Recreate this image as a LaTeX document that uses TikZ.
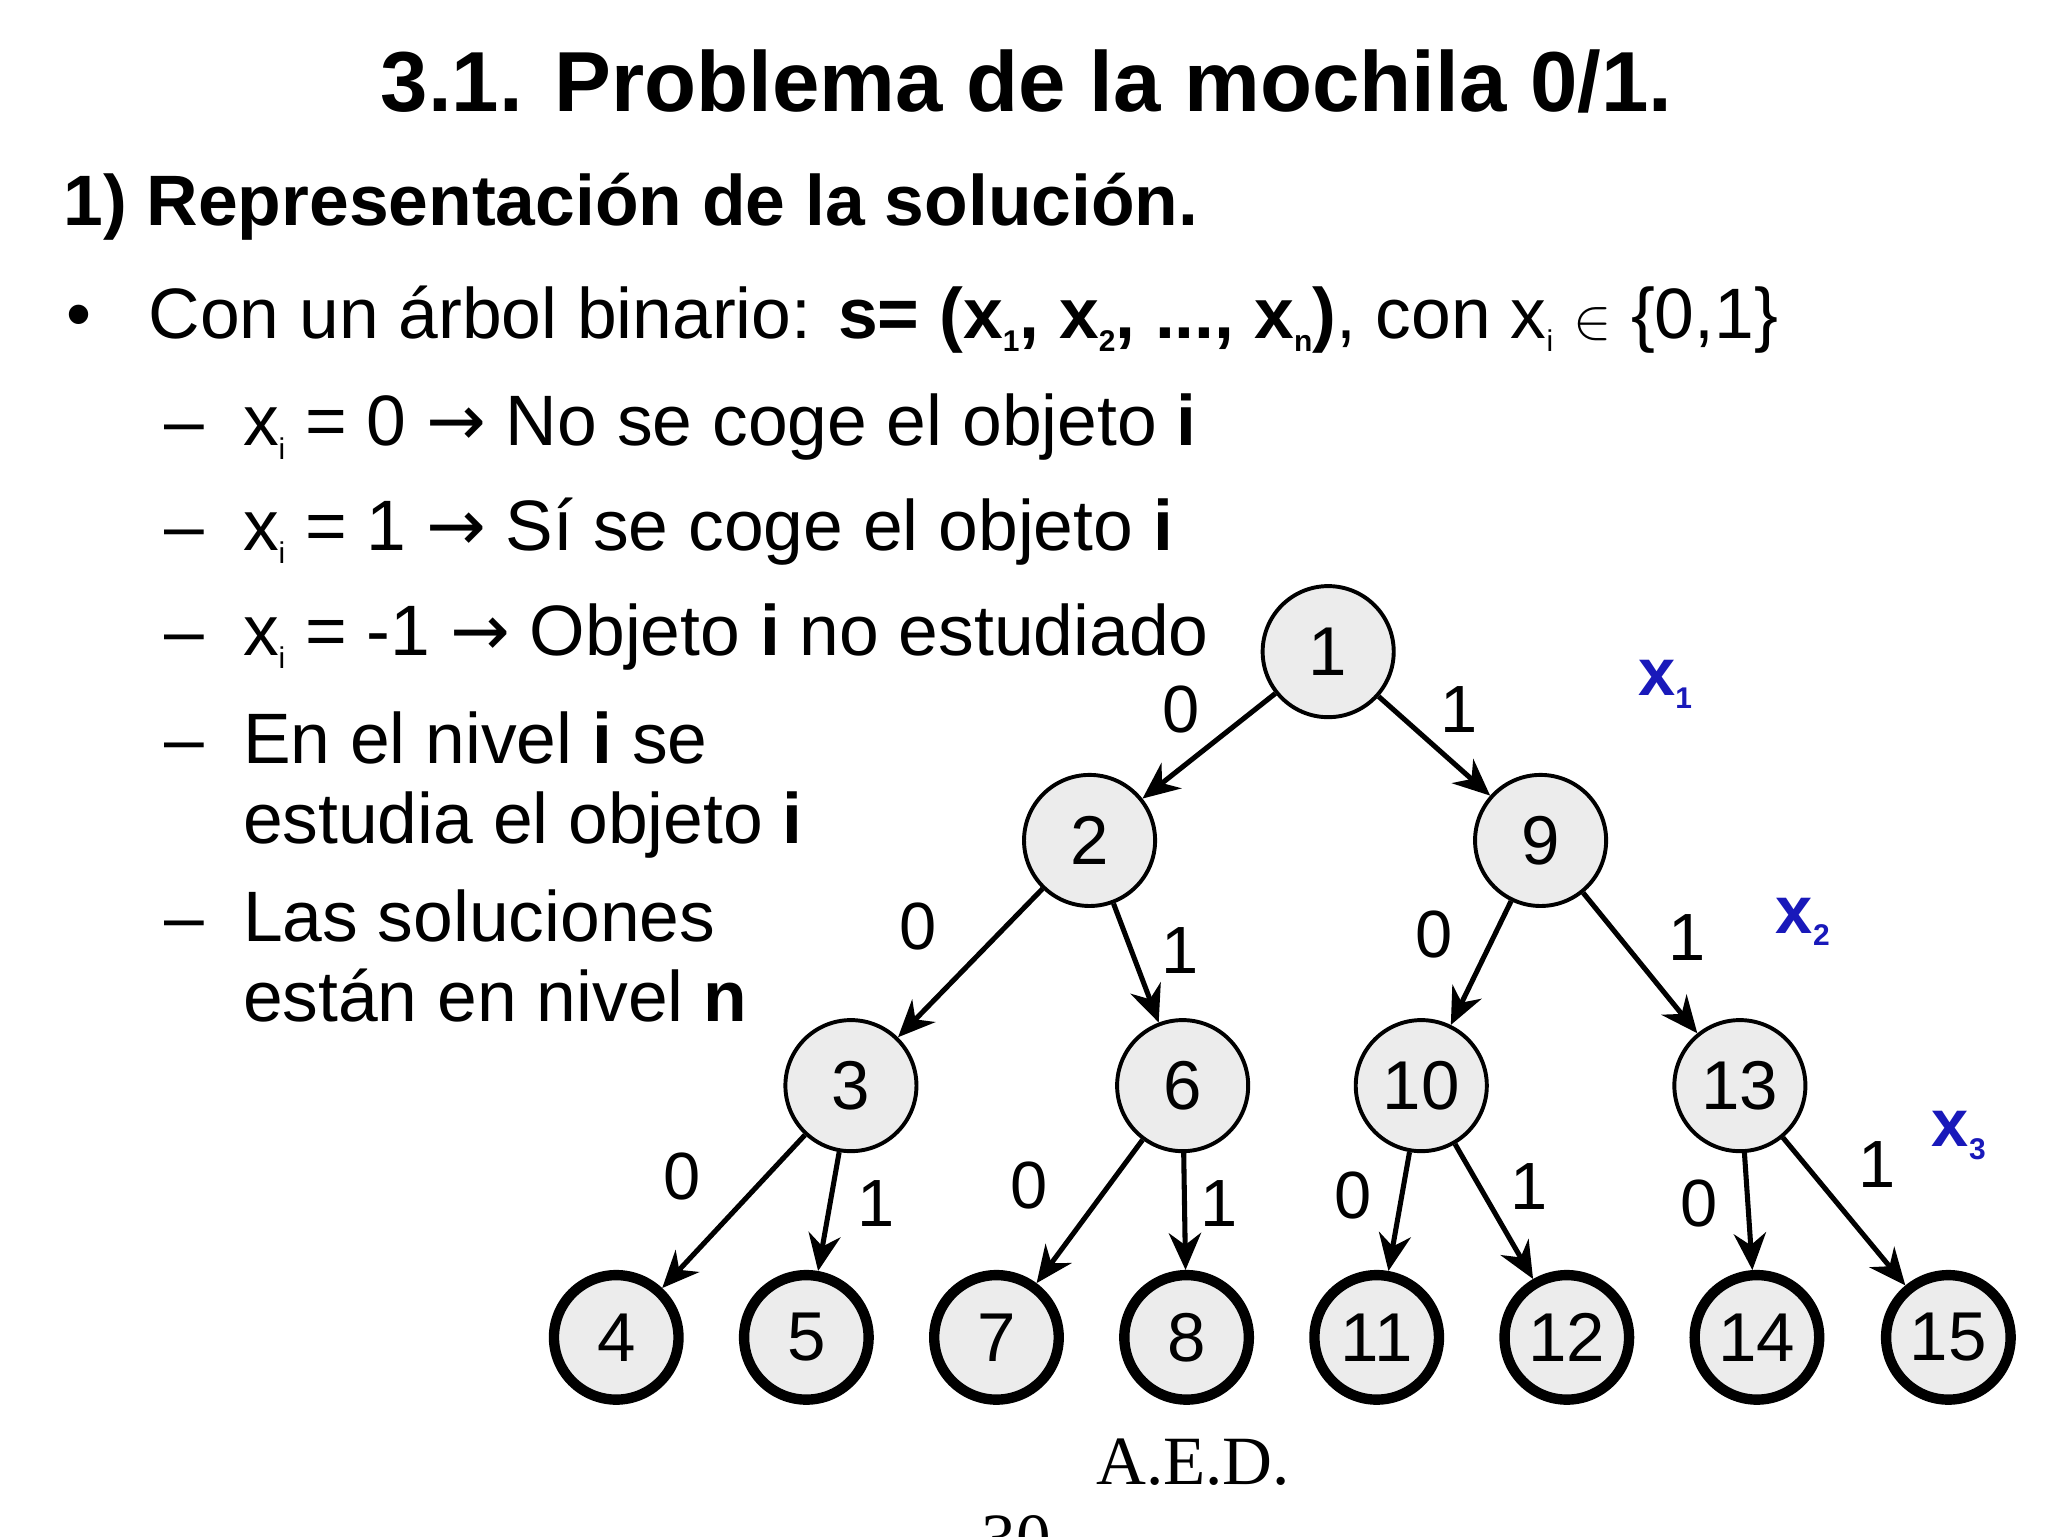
\documentclass[tikz,border=0pt]{standalone}
\usepackage{fontspec}
\setmainfont{Liberation Sans}
\newfontfamily\timesf{Liberation Serif}
\newfontfamily\djv{DejaVu Sans}
\newcommand{\mysub}[1]{\raisebox{-0.35ex}{\fontsize{13}{13}\selectfont #1}}
\newcommand{\myarr}{{\djv →}}
\usetikzlibrary{arrows.meta}
\begin{document}
\begin{tikzpicture}[x=0.02cm,y=-0.02cm,
  inner/.style={circle,draw,line width=1.7pt,fill=gray!15,minimum size=2cm,inner sep=0pt,font=\fontsize{30}{36}\selectfont},
  leaf/.style={circle,draw,line width=4.5pt,fill=gray!15,minimum size=1.9cm,inner sep=0pt,font=\fontsize{30}{36}\selectfont},
  edge/.style={line width=2.2pt,-{Stealth[length=16pt,width=14pt]}},
  lab/.style={font=\fontsize{29}{34}\selectfont},
  xl/.style={font=\fontsize{29}{34}\selectfont\bfseries,text=blue!70!black!90!white},
  txt/.style={anchor=base west,inner sep=0pt,font=\fontsize{31}{40}\selectfont}]
\useasboundingbox (0,0) rectangle (1562,1171.5);
\fill[white] (0,0) rectangle (1562,1171.5);
\node[anchor=base,font=\fontsize{37}{44}\selectfont\bfseries] (title) at (783,85) {3.1. Problema de la mochila 0/1.};
\node[txt,font=\fontsize{31}{40}\selectfont\bfseries] (head) at (48,172) {1) Representación de la solución.};
\node[txt] (bul) at (50,258) {•};
\node[txt] (b1) at (113,258) {Con un árbol binario: \textbf{s= (x\mysub{1}, x\mysub{2}, ..., x\mysub{n})}, con x\mysub{i} $\in$ \{0,1\}};
\foreach \yy in {340,420,500,582,718} \node[txt] at (125,\yy) {–};
\node[txt] (d1) at (185,340) {x\mysub{i} = 0 \myarr{} No se coge el objeto \textbf{i}};
\node[txt] (d2) at (185,420) {x\mysub{i} = 1 \myarr{} Sí se coge el objeto \textbf{i}};
\node[txt] (d3) at (185,500) {x\mysub{i} = -1 \myarr{} Objeto \textbf{i} no estudiado};
\node[txt] (d4) at (185,582) {En el nivel \textbf{i} se};
\node[txt] (d4b) at (185,643) {estudia el objeto \textbf{i}};
\node[txt] (d5) at (185,718) {Las soluciones};
\node[txt] (d5b) at (185,779) {están en nivel \textbf{n}};

\node[inner] (n1) at (1013,497) {1};
\node[inner] (n2) at (831,641) {2};
\node[inner] (n9) at (1175,641) {9};
\node[inner] (n3) at (649,828) {3};
\node[inner] (n6) at (902,828) {6};
\node[inner] (n10) at (1084,828) {10};
\node[inner] (n13) at (1327,828) {13};
\foreach \n/\x in {4/470,5/615,7/760,8/905,11/1050,12/1195,14/1340,15/1486}
  \node[leaf] (n\n) at (\x,1020) {\n};
\foreach \a/\b in {1/2,1/9,2/3,2/6,9/10,9/13,3/4,3/5,6/7,6/8,10/11,10/12,13/14,13/15}
  \draw[edge] (n\a) -- (n\b);
\foreach \p/\t in {{(901,541)}/0,{(1113,541)}/1,{(700,707)}/0,{(900,725)}/1,{(1094,713)}/0,{(1287,715)}/1,
  {(520,897)}/0,{(668,918)}/1,{(785,904)}/0,{(930,918)}/1,{(1032,912)}/0,{(1166,905)}/1,{(1296,918)}/0,{(1432,888)}/1}
  \node[lab] at \p {\t};
\node[xl] (x1) at (1270,522) {x\mysub{1}};
\node[xl] (x2) at (1375,703) {x\mysub{2}};
\node[xl] (x3) at (1494,866) {x\mysub{3}};
\node[font=\timesf\fontsize{30}{34}\selectfont] (aed) at (910,1115) {A.E.D.};
\node[font=\timesf\fontsize{30}{34}\selectfont,anchor=north] (pg) at (775,1150) {30};
\end{tikzpicture}
\end{document}
